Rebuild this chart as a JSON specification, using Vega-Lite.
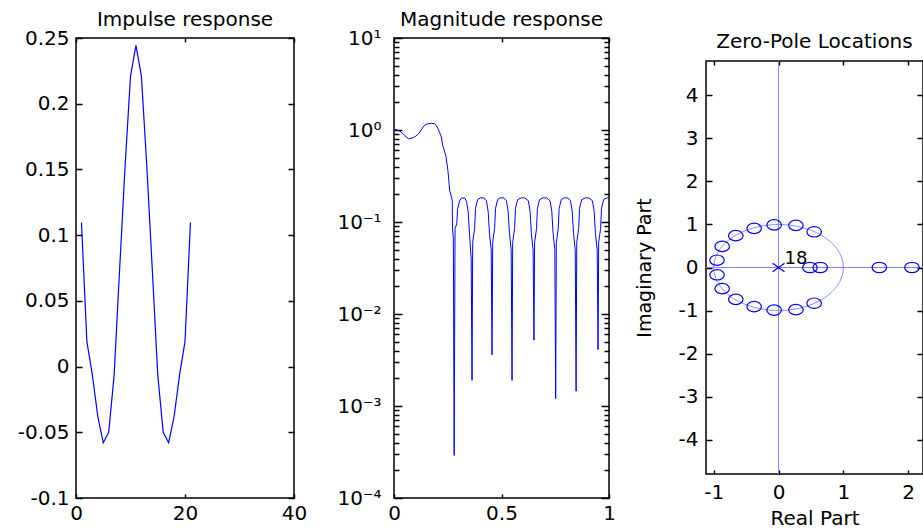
{
  "$schema": "https://vega.github.io/schema/vega-lite/v6.json",
  "background": "white",
  "padding": {"left": 16, "top": 9, "right": 0, "bottom": 0},
  "config": {
    "view": {"stroke": "#000", "strokeWidth": 1.5},
    "axis": {"grid": false, "domain": false, "labelFont": "DejaVu Sans", "labelFontSize": 20, "labelColor": "#000", "titleFont": "DejaVu Sans", "titleFontSize": 20, "titleFontWeight": "normal", "titleColor": "#000", "tickColor": "#000", "tickWidth": 1.5, "labelFlush": false, "labelOverlap": false},
    "title": {"font": "DejaVu Sans", "fontSize": 20, "fontWeight": "normal", "color": "#000", "frame": "group", "baseline": "alphabetic", "offset": -2}
  },
  "datasets": {
    "impulse": [
      {"n": 1, "h": 0.1096}, {"n": 2, "h": 0.019}, {"n": 3, "h": -0.0063}, {"n": 4, "h": -0.038}, {"n": 5, "h": -0.0579},
      {"n": 6, "h": -0.05}, {"n": 7, "h": -0.0063}, {"n": 8, "h": 0.0736}, {"n": 9, "h": 0.152}, {"n": 10, "h": 0.221},
      {"n": 11, "h": 0.2444}, {"n": 12, "h": 0.221}, {"n": 13, "h": 0.152}, {"n": 14, "h": 0.0736}, {"n": 15, "h": -0.0063},
      {"n": 16, "h": -0.05}, {"n": 17, "h": -0.0579}, {"n": 18, "h": -0.038}, {"n": 19, "h": -0.0063}, {"n": 20, "h": 0.019},
      {"n": 21, "h": 0.1096}
    ],
    "mag": [
      {"f": 0, "m": 1.02}, {"f": 0.02, "m": 0.99}, {"f": 0.034, "m": 0.95}, {"f": 0.05, "m": 0.87}, {"f": 0.068, "m": 0.8},
      {"f": 0.085, "m": 0.82}, {"f": 0.096, "m": 0.84}, {"f": 0.11, "m": 0.89}, {"f": 0.12, "m": 0.95}, {"f": 0.135, "m": 1.08},
      {"f": 0.146, "m": 1.14}, {"f": 0.158, "m": 1.17}, {"f": 0.175, "m": 1.18}, {"f": 0.189, "m": 1.17}, {"f": 0.198, "m": 1.11},
      {"f": 0.205, "m": 1.03}, {"f": 0.213, "m": 0.93}, {"f": 0.22, "m": 0.84}, {"f": 0.2265, "m": 0.68}, {"f": 0.234, "m": 0.6},
      {"f": 0.242, "m": 0.51}, {"f": 0.251, "m": 0.36}, {"f": 0.259, "m": 0.22}, {"f": 0.2665, "m": 0.19}, {"f": 0.271, "m": 0.17},
      {"f": 0.272, "m": 0.087}, {"f": 0.276, "m": 0.066}, {"f": 0.28, "m": 0.00029},
      {"f": 0.284, "m": 0.085}, {"f": 0.292, "m": 0.095}, {"f": 0.296, "m": 0.14}, {"f": 0.306, "m": 0.172}, {"f": 0.314, "m": 0.182},
      {"f": 0.329, "m": 0.182}, {"f": 0.337, "m": 0.168}, {"f": 0.345, "m": 0.13}, {"f": 0.351, "m": 0.075}, {"f": 0.359, "m": 0.04}, {"f": 0.363, "m": 0.0019},
      {"f": 0.366, "m": 0.06}, {"f": 0.375, "m": 0.085}, {"f": 0.379, "m": 0.14}, {"f": 0.389, "m": 0.175}, {"f": 0.4015, "m": 0.183},
      {"f": 0.4175, "m": 0.183}, {"f": 0.43, "m": 0.17}, {"f": 0.438, "m": 0.13}, {"f": 0.444, "m": 0.075}, {"f": 0.452, "m": 0.05}, {"f": 0.456, "m": 0.0036},
      {"f": 0.459, "m": 0.06}, {"f": 0.468, "m": 0.085}, {"f": 0.472, "m": 0.14}, {"f": 0.482, "m": 0.175}, {"f": 0.4945, "m": 0.183},
      {"f": 0.5105, "m": 0.183}, {"f": 0.523, "m": 0.17}, {"f": 0.531, "m": 0.13}, {"f": 0.537, "m": 0.075}, {"f": 0.545, "m": 0.05}, {"f": 0.549, "m": 0.0019},
      {"f": 0.552, "m": 0.06}, {"f": 0.561, "m": 0.085}, {"f": 0.565, "m": 0.14}, {"f": 0.575, "m": 0.175}, {"f": 0.592, "m": 0.183},
      {"f": 0.608, "m": 0.183}, {"f": 0.625, "m": 0.17}, {"f": 0.633, "m": 0.13}, {"f": 0.639, "m": 0.075}, {"f": 0.647, "m": 0.05}, {"f": 0.651, "m": 0.0052},
      {"f": 0.654, "m": 0.06}, {"f": 0.663, "m": 0.085}, {"f": 0.667, "m": 0.14}, {"f": 0.677, "m": 0.175}, {"f": 0.6935, "m": 0.183},
      {"f": 0.7095, "m": 0.183}, {"f": 0.726, "m": 0.17}, {"f": 0.734, "m": 0.13}, {"f": 0.74, "m": 0.075}, {"f": 0.748, "m": 0.05}, {"f": 0.752, "m": 0.0012},
      {"f": 0.755, "m": 0.06}, {"f": 0.764, "m": 0.085}, {"f": 0.768, "m": 0.14}, {"f": 0.778, "m": 0.175}, {"f": 0.7915, "m": 0.183},
      {"f": 0.8075, "m": 0.183}, {"f": 0.821, "m": 0.17}, {"f": 0.829, "m": 0.13}, {"f": 0.835, "m": 0.075}, {"f": 0.843, "m": 0.05}, {"f": 0.847, "m": 0.00145},
      {"f": 0.85, "m": 0.06}, {"f": 0.859, "m": 0.085}, {"f": 0.863, "m": 0.14}, {"f": 0.873, "m": 0.175}, {"f": 0.89, "m": 0.183},
      {"f": 0.906, "m": 0.183}, {"f": 0.923, "m": 0.17}, {"f": 0.931, "m": 0.13}, {"f": 0.937, "m": 0.075}, {"f": 0.945, "m": 0.05}, {"f": 0.949, "m": 0.0041},
      {"f": 0.952, "m": 0.06}, {"f": 0.961, "m": 0.085}, {"f": 0.965, "m": 0.14}, {"f": 0.975, "m": 0.175}, {"f": 0.99, "m": 0.183}, {"f": 1.0, "m": 0.184}
    ],
    "zeros": [
      {"re": -0.95, "im": 0.17}, {"re": -0.95, "im": -0.17}, {"re": -0.87, "im": 0.49}, {"re": -0.87, "im": -0.49},
      {"re": -0.66, "im": 0.74}, {"re": -0.66, "im": -0.74}, {"re": -0.377, "im": 0.91}, {"re": -0.377, "im": -0.91},
      {"re": -0.068, "im": 0.99}, {"re": -0.068, "im": -0.99}, {"re": 0.268, "im": 0.98}, {"re": 0.268, "im": -0.98},
      {"re": 0.55, "im": 0.83}, {"re": 0.55, "im": -0.83}, {"re": 0.484, "im": 0}, {"re": 0.643, "im": 0},
      {"re": 1.556, "im": 0}, {"re": 2.06, "im": 0}
    ],
    "circle": [
      {"i": 0, "re": 1, "im": 0}, {"i": 1, "re": 0.966, "im": 0.259}, {"i": 2, "re": 0.866, "im": 0.5}, {"i": 3, "re": 0.707, "im": 0.707},
      {"i": 4, "re": 0.5, "im": 0.866}, {"i": 5, "re": 0.259, "im": 0.966}, {"i": 6, "re": 0, "im": 1}, {"i": 7, "re": -0.259, "im": 0.966},
      {"i": 8, "re": -0.5, "im": 0.866}, {"i": 9, "re": -0.707, "im": 0.707}, {"i": 10, "re": -0.866, "im": 0.5}, {"i": 11, "re": -0.966, "im": 0.259},
      {"i": 12, "re": -1, "im": 0}, {"i": 13, "re": -0.966, "im": -0.259}, {"i": 14, "re": -0.866, "im": -0.5}, {"i": 15, "re": -0.707, "im": -0.707},
      {"i": 16, "re": -0.5, "im": -0.866}, {"i": 17, "re": -0.259, "im": -0.966}, {"i": 18, "re": 0, "im": -1}, {"i": 19, "re": 0.259, "im": -0.966},
      {"i": 20, "re": 0.5, "im": -0.866}, {"i": 21, "re": 0.707, "im": -0.707}, {"i": 22, "re": 0.866, "im": -0.5}, {"i": 23, "re": 0.966, "im": -0.259}
    ],
    "pole": [{"re": 0, "im": 0, "count": "18"}]
  },
  "spacing": 17,
  "hconcat": [
    {
      "spacing": 28,
      "hconcat": [
        {
          "width": 218, "height": 460,
          "title": "Impulse response",
          "data": {"name": "impulse"},
          "layer": [
            {
              "mark": {"type": "line", "color": "#0000ff", "strokeWidth": 1.2},
              "encoding": {
                "x": {"field": "n", "type": "quantitative", "scale": {"domain": [0, 40], "nice": false, "zero": false},
                      "axis": {"orient": "bottom", "values": [0, 20, 40], "format": "d", "title": null, "tickSize": -4, "labelPadding": 9}},
                "y": {"field": "h", "type": "quantitative", "scale": {"domain": [-0.1, 0.25], "nice": false, "zero": false},
                      "axis": {"orient": "left", "values": [-0.1, -0.05, 0, 0.05, 0.1, 0.15, 0.2, 0.25], "format": "~g", "labelExpr": "replace(datum.label, '−', '-')", "title": null, "tickSize": -6, "labelPadding": 13}}
              }
            },
            {
              "mark": {"type": "line", "strokeOpacity": 0},
              "encoding": {
                "x": {"field": "n", "type": "quantitative", "scale": {"domain": [0, 40], "nice": false, "zero": false},
                      "axis": {"orient": "top", "values": [0, 20, 40], "labels": false, "title": null, "tickSize": -4}},
                "y": {"field": "h", "type": "quantitative", "scale": {"domain": [-0.1, 0.25], "nice": false, "zero": false},
                      "axis": {"orient": "right", "values": [-0.1, -0.05, 0, 0.05, 0.1, 0.15, 0.2, 0.25], "labels": false, "title": null, "tickSize": -6}}
              }
            }
          ],
          "resolve": {"axis": {"x": "independent", "y": "independent"}}
        },
        {
          "width": 215, "height": 460,
          "title": "Magnitude response",
          "data": {"name": "mag"},
          "layer": [
            {
              "mark": {"type": "line", "color": "#0000ff", "strokeWidth": 1},
              "encoding": {
                "x": {"field": "f", "type": "quantitative", "scale": {"domain": [0, 1], "nice": false},
                      "axis": {"orient": "bottom", "values": [0, 0.5, 1], "format": "~g", "title": null, "tickSize": -4, "labelPadding": 9}},
                "y": {"field": "m", "type": "quantitative", "scale": {"type": "log", "domain": [0.0001, 10], "nice": false},
                      "axis": {"orient": "left", "values": [0.0001, 0.001, 0.01, 0.1, 1, 10], "labelExpr": "'10' + ['⁻⁴','⁻³','⁻²','⁻¹','⁰','¹'][round(log(datum.value)/LN10) + 4]", "title": null, "tickSize": -8, "labelPadding": 21}}
              }
            },
            {
              "mark": {"type": "line", "strokeOpacity": 0},
              "encoding": {
                "x": {"field": "f", "type": "quantitative", "scale": {"domain": [0, 1], "nice": false},
                      "axis": {"orient": "top", "values": [0, 0.5, 1], "labels": false, "title": null, "tickSize": -4}},
                "y": {"field": "m", "type": "quantitative", "scale": {"type": "log", "domain": [0.0001, 10], "nice": false},
                      "axis": {"orient": "right", "values": [0.0001, 0.001, 0.01, 0.1, 1, 10], "labels": false, "title": null, "tickSize": -8}}
              }
            },
            {
              "mark": {"type": "line", "strokeOpacity": 0},
              "encoding": {
                "x": {"field": "f", "type": "quantitative", "scale": {"domain": [0, 1], "nice": false}, "axis": null},
                "y": {"field": "m", "type": "quantitative", "scale": {"type": "log", "domain": [0.0001, 10], "nice": false},
                      "axis": {"orient": "left", "values": [0.0002, 0.0003, 0.0004, 0.0005, 0.0006, 0.0007, 0.0008, 0.0009, 0.002, 0.003, 0.004, 0.005, 0.006, 0.007, 0.008, 0.009, 0.02, 0.03, 0.04, 0.05, 0.06, 0.07, 0.08, 0.09, 0.2, 0.3, 0.4, 0.5, 0.6, 0.7, 0.8, 0.9, 2, 3, 4, 5, 6, 7, 8, 9], "labels": false, "title": null, "tickSize": -5}}
              }
            },
            {
              "mark": {"type": "line", "strokeOpacity": 0},
              "encoding": {
                "x": {"field": "f", "type": "quantitative", "scale": {"domain": [0, 1], "nice": false}, "axis": null},
                "y": {"field": "m", "type": "quantitative", "scale": {"type": "log", "domain": [0.0001, 10], "nice": false},
                      "axis": {"orient": "right", "values": [0.0002, 0.0003, 0.0004, 0.0005, 0.0006, 0.0007, 0.0008, 0.0009, 0.002, 0.003, 0.004, 0.005, 0.006, 0.007, 0.008, 0.009, 0.02, 0.03, 0.04, 0.05, 0.06, 0.07, 0.08, 0.09, 0.2, 0.3, 0.4, 0.5, 0.6, 0.7, 0.8, 0.9, 2, 3, 4, 5, 6, 7, 8, 9], "labels": false, "title": null, "tickSize": -5}}
              }
            }
          ],
          "resolve": {"axis": {"x": "independent", "y": "independent"}}
        }
      ]
    },
    {
      "spacing": -8,
      "vconcat": [
        {
          "width": 217, "height": 1,
          "data": {"values": []},
          "mark": {"type": "point", "opacity": 0},
          "encoding": {},
          "view": {"stroke": null}
        },
        {
          "width": 217, "height": 413,
          "title": {"text": "Zero-Pole Locations", "offset": 8},
          "layer": [
            {
              "data": {"name": "pole"},
              "mark": {"type": "rule", "color": "#7f7fff", "strokeWidth": 1},
              "encoding": {
                "x": {"field": "re", "type": "quantitative", "scale": {"domain": [-1.12, 2.23], "nice": false, "zero": false}, "axis": null}
              }
            },
            {
              "data": {"name": "pole"},
              "mark": {"type": "rule", "color": "#7f7fff", "strokeWidth": 1},
              "encoding": {
                "y": {"field": "im", "type": "quantitative", "scale": {"domain": [-4.8, 4.8], "nice": false, "zero": false}, "axis": null}
              }
            },
            {
              "data": {"name": "circle"},
              "mark": {"type": "line", "color": "#8c8cff", "strokeWidth": 1, "interpolate": "cardinal-closed"},
              "encoding": {
                "x": {"field": "re", "type": "quantitative", "scale": {"domain": [-1.12, 2.23], "nice": false, "zero": false},
                      "axis": {"orient": "top", "values": [-1, 0, 1, 2], "labels": false, "title": null, "tickSize": -4}},
                "y": {"field": "im", "type": "quantitative", "scale": {"domain": [-4.8, 4.8], "nice": false, "zero": false},
                      "axis": {"orient": "right", "values": [-4, -3, -2, -1, 0, 1, 2, 3, 4], "labels": false, "title": null, "tickSize": -6}},
                "order": {"field": "i", "type": "quantitative"}
              }
            },
            {
              "data": {"name": "zeros"},
              "mark": {"type": "point", "shape": "M-1.4,0C-1.4,-0.552,-0.773,-1,0,-1C0.773,-1,1.4,-0.552,1.4,0C1.4,0.552,0.773,1,0,1C-0.773,1,-1.4,0.552,-1.4,0Z", "size": 108, "filled": false, "color": "#0000ff", "strokeWidth": 1.2, "opacity": 1},
              "encoding": {
                "x": {"field": "re", "type": "quantitative", "scale": {"domain": [-1.12, 2.23], "nice": false, "zero": false},
                      "axis": {"orient": "bottom", "values": [-1, 0, 1, 2], "labelExpr": "replace(datum.label, '−', '-')", "title": "Real Part", "tickSize": -4, "labelPadding": 12, "titlePadding": 6}},
                "y": {"field": "im", "type": "quantitative", "scale": {"domain": [-4.8, 4.8], "nice": false, "zero": false},
                      "axis": {"orient": "left", "values": [-4, -3, -2, -1, 0, 1, 2, 3, 4], "labelExpr": "replace(datum.label, '−', '-')", "title": "Imaginary Part", "titleFontSize": 19, "titlePadding": 24, "tickSize": -6, "labelPadding": 14}}
              }
            },
            {
              "data": {"name": "pole"},
              "mark": {"type": "point", "shape": "M-1.4,-1L1.4,1M-1.4,1L1.4,-1", "size": 73, "filled": false, "color": "#0000ff", "strokeWidth": 1.2, "opacity": 1},
              "encoding": {
                "x": {"field": "re", "type": "quantitative", "scale": {"domain": [-1.12, 2.23], "nice": false, "zero": false}, "axis": null},
                "y": {"field": "im", "type": "quantitative", "scale": {"domain": [-4.8, 4.8], "nice": false, "zero": false}, "axis": null}
              }
            },
            {
              "data": {"name": "pole"},
              "mark": {"type": "text", "align": "left", "baseline": "alphabetic", "dx": 6, "dy": -4, "fontSize": 18, "font": "DejaVu Sans", "color": "#000"},
              "encoding": {
                "x": {"field": "re", "type": "quantitative", "scale": {"domain": [-1.12, 2.23], "nice": false, "zero": false}, "axis": null},
                "y": {"field": "im", "type": "quantitative", "scale": {"domain": [-4.8, 4.8], "nice": false, "zero": false}, "axis": null},
                "text": {"field": "count", "type": "nominal"}
              }
            }
          ],
          "resolve": {"axis": {"x": "independent", "y": "independent"}}
        }
      ]
    }
  ]
}
